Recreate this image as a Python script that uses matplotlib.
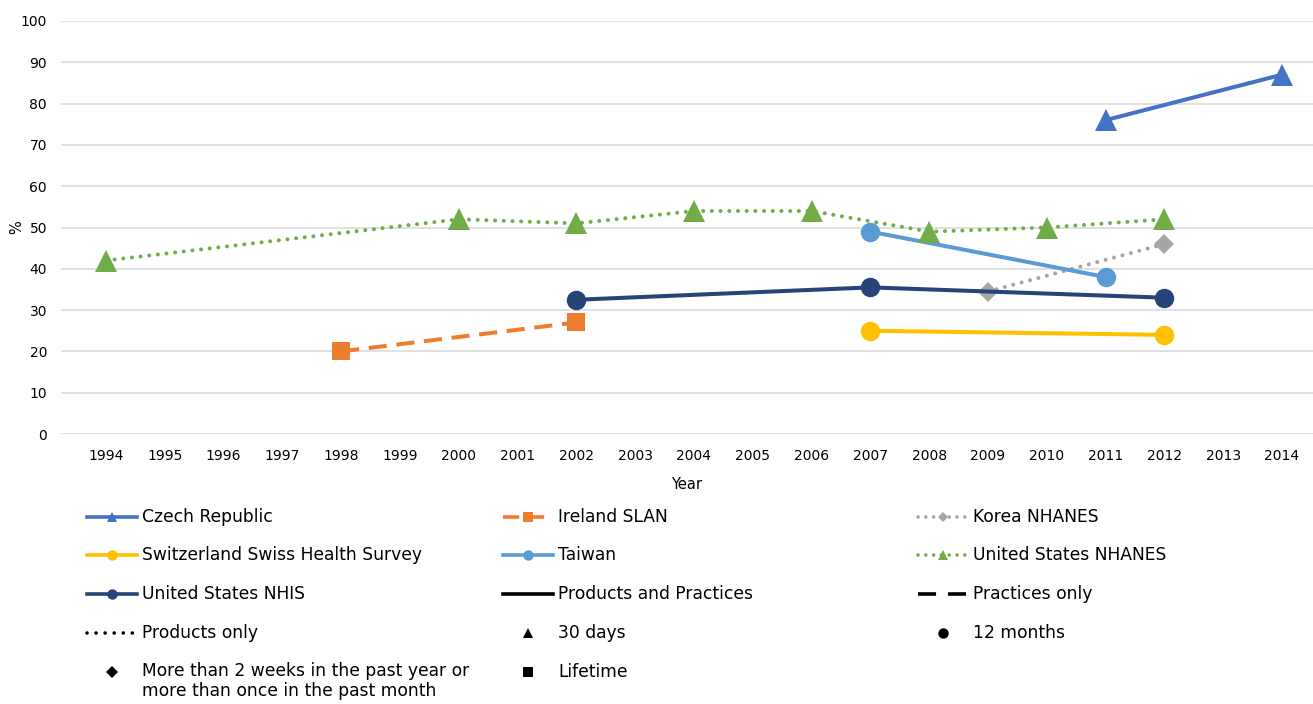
"""
Use of complementary health products and practices by survey, line chart with a custom legend

"""
import matplotlib
import matplotlib.pyplot as plt
from matplotlib.lines import Line2D

matplotlib.use("Agg")

# Values, one small list per series
years = list(range(1994, 2015))

czech_years = [2011, 2014]
czech_pct = [76, 87]

ireland_years = [1998, 2002]
ireland_pct = [20, 27]

korea_years = [2009, 2012]
korea_pct = [34.5, 46]

swiss_years = [2007, 2012]
swiss_pct = [25, 24]

taiwan_years = [2007, 2011]
taiwan_pct = [49, 38]

nhanes_years = [1994, 2000, 2002, 2004, 2006, 2008, 2010, 2012]
nhanes_pct = [42, 52, 51, 54, 54, 49, 50, 52]

nhis_years = [2002, 2007, 2012]
nhis_pct = [32.5, 35.5, 33]

# Legend entries, in reading order (row by row)
legend_labels = [
    "Czech Republic", "Ireland SLAN", "Korea NHANES",
    "Switzerland Swiss Health Survey", "Taiwan", "United States NHANES",
    "United States NHIS", "Products and Practices", "Practices only",
    "Products only", "30 days", "12 months",
    "More than 2 weeks in the past year or\nmore than once in the past month", "Lifetime",
]

DOTTED = (0, (0.01, 2.15))
DASHED = (0, (4.5, 2.4))
LEG_DOTTED = (0, (0.01, 2.5))
LEG_DASHED = (0, (5.0, 3.3))


def capstyle(ls):
    # dotted styles need round caps to show as dots
    return "round" if ls in (DOTTED, LEG_DOTTED) else "butt"


def main():
    fig = plt.figure(figsize=(13.13, 7.04), dpi=100)
    W, H = 1313, 704

    # Axes placed in pixels so it lines up with the reference
    ax = fig.add_axes([61 / W, 1 - 434 / H, 1 - 61 / W, (434 - 21) / H])

    series = [
        (czech_years, czech_pct, "#4472C4", "-", "^", 15.5),
        (ireland_years, ireland_pct, "#ED7D31", DASHED, "s", 13.5),
        (korea_years, korea_pct, "#A5A5A5", DOTTED, "D", 10.5),
        (swiss_years, swiss_pct, "#FFC000", "-", "o", 14),
        (taiwan_years, taiwan_pct, "#5B9BD5", "-", "o", 14),
        (nhanes_years, nhanes_pct, "#70AD47", DOTTED, "^", 15.5),
        (nhis_years, nhis_pct, "#264478", "-", "o", 14),
    ]
    for x, y, color, ls, mk, ms in series:
        ax.plot(
            x, y, color=color, linestyle=ls, linewidth=2.9,
            dash_capstyle=capstyle(ls),
            marker=mk, markersize=ms, markerfacecolor=color,
            markeredgecolor=color, markeredgewidth=0, clip_on=False,
        )

    ax.set_xlim(1993.235, 2014.527)
    ax.set_ylim(0, 100)
    ax.set_xticks(years)
    ax.set_xticklabels([str(y) for y in years])
    ax.set_yticks(range(0, 101, 10))

    ax.grid(axis="y", color="#D9D9D9", linewidth=1.1)
    ax.set_axisbelow(True)
    for spine in ax.spines.values():
        spine.set_visible(False)
    ax.tick_params(axis="both", length=0, labelsize=10, colors="#000000")
    ax.tick_params(axis="y", pad=10)
    ax.tick_params(axis="x", pad=11)

    ax.set_xlabel("Year", fontsize=10.5, labelpad=10)
    ax.set_ylabel("%", fontsize=10.5)
    ax.yaxis.set_label_coords(-0.029, 0.5)

    # Custom legend: three columns, drawn in figure pixels
    handles = [
        ("#4472C4", "-", "^"), ("#ED7D31", DASHED, "s"), ("#A5A5A5", DOTTED, "D"),
        ("#FFC000", "-", "o"), ("#5B9BD5", "-", "o"), ("#70AD47", DOTTED, "^"),
        ("#264478", "-", "o"), ("black", "-", None), ("black", LEG_DASHED, None),
        ("black", LEG_DOTTED, None), ("black", None, "^"), ("black", None, "o"),
        ("black", None, "D"), ("black", None, "s"),
    ]
    col_x = [87, 503, 918]
    row_y = [517, 555, 594, 633, 672]
    for i, (label, (color, ls, mk)) in enumerate(zip(legend_labels, handles)):
        r, c = divmod(i, 3)
        x0, y = col_x[c], row_y[r]
        fy = 1 - y / H
        if ls is not None:
            fig.add_artist(Line2D(
                [x0 / W, (x0 + 50) / W], [fy, fy], transform=fig.transFigure,
                color=color, linestyle=ls, linewidth=2.6,
                dash_capstyle=capstyle(ls),
            ))
        if mk is not None:
            size = 7.5
            if mk == "D":
                size = 5.5 if ls is not None else 6
            fig.add_artist(Line2D(
                [(x0 + 25) / W], [fy], transform=fig.transFigure, linestyle="none",
                marker=mk, markersize=size, color=color, markeredgewidth=0,
            ))
        if "\n" in label:
            fig.text((x0 + 55) / W, 1 - (y - 10) / H, label, fontsize=12.3,
                     va="top", ha="left", linespacing=1.15)
        else:
            fig.text((x0 + 55) / W, fy, label, fontsize=12.3, va="center", ha="left")

    fig.savefig("out.png", dpi=100)


if __name__ == "__main__":
    main()
